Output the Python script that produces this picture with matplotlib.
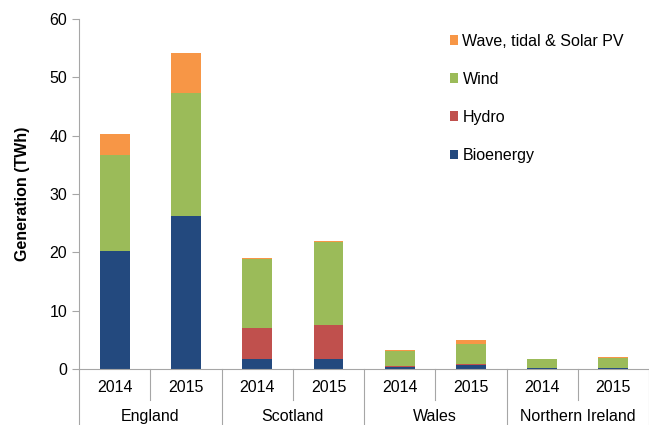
import numpy as np
import matplotlib
matplotlib.use("Agg")
import matplotlib.pyplot as plt

plt.rcParams['font.family'] = ['Liberation Sans', 'DejaVu Sans']

regions = ["England", "Scotland", "Wales", "Northern Ireland"]
years = ["2014", "2015"]

# TWh, one value per bar (region x year)
bioenergy = [20.2, 26.2, 1.7, 1.7, 0.4, 0.75, 0.1, 0.2]
hydro = [0.0, 0.0, 5.3, 5.8, 0.15, 0.1, 0.0, 0.0]
wind = [16.5, 21.1, 11.9, 14.3, 2.55, 3.45, 1.55, 1.75]
solar = [3.6, 6.9, 0.2, 0.2, 0.2, 0.7, 0.05, 0.05]

series = [
    ("Bioenergy", bioenergy, "#23497E"),
    ("Hydro", hydro, "#C0504D"),
    ("Wind", wind, "#9BBB59"),
    ("Wave, tidal & Solar PV", solar, "#F79646"),
]

fig = plt.figure(figsize=(6.49, 4.25), dpi=100)
ax = fig.add_axes([0.122, 0.132, 0.878, 0.823])

x = np.arange(len(bioenergy))
bottom = np.zeros(len(x))
for name, vals, col in series:
    ax.bar(x, vals, 0.42, bottom=bottom, color=col, label=name)
    bottom += np.array(vals)

ax.set_ylim(0, 60)
ax.set_xlim(-0.5, len(x) - 0.5)
ax.set_yticks(range(0, 61, 10))
ax.set_ylabel("Generation (TWh)", fontsize=11.5, fontweight="bold", labelpad=14)
ax.set_xticks(x)
ax.set_xticklabels(years * len(regions))
ax.tick_params(axis="x", length=0, labelsize=11.5, pad=8)
ax.tick_params(axis="y", length=5, color="#A6A6A6", labelsize=11.5)

for s in ["top", "right"]:
    ax.spines[s].set_visible(False)
for s in ["left", "bottom"]:
    ax.spines[s].set_color("#A6A6A6")

# separators below the axis
tr = ax.get_xaxis_transform()
for i in range(len(x) + 1):
    b = i - 0.5
    y_end = -0.16 if i % 2 == 0 else -0.09
    ax.plot([b, b], [0, y_end], transform=tr, color="#A6A6A6", lw=0.8, clip_on=False)

for j, r in enumerate(regions):
    ax.text(2 * j + 0.5, -0.135, r, transform=tr, ha="center", va="center", fontsize=11.5)

h, l = ax.get_legend_handles_labels()
ax.legend(h[::-1], l[::-1], loc="upper left", bbox_to_anchor=(0.625, 1.0), frameon=False,
          fontsize=11.5, handlelength=0.55, handleheight=0.55, handletextpad=0.25,
          labelspacing=1.45)

fig.savefig("out.png", dpi=100)
